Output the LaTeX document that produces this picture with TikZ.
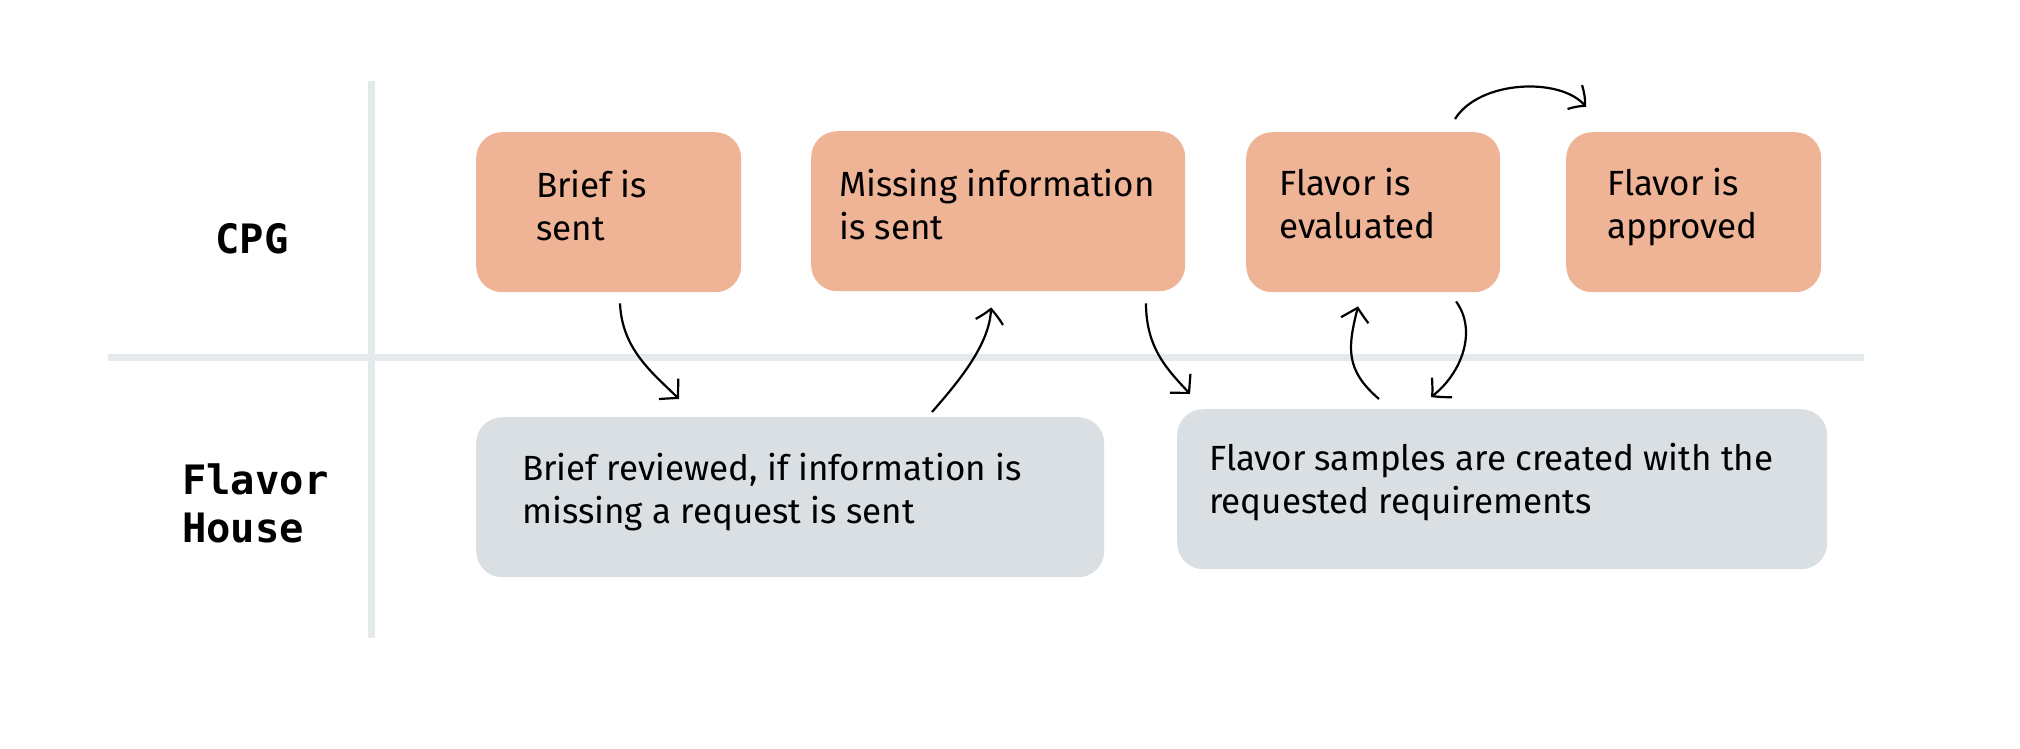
\documentclass[tikz,border=0pt]{standalone}
\usepackage{fontspec}
\setmainfont{Fira Sans}
\newfontfamily\lanemono{DejaVu Sans Mono}
\usetikzlibrary{arrows.meta,calc,bending}
\definecolor{orangebox}{HTML}{EFB395}
\definecolor{graybox}{HTML}{D9DFE2}
\definecolor{laneline}{HTML}{E4E9EB}
\newcommand{\boxtext}[4]{\hspace*{#1pt}\parbox[t][#2pt][t]{#3pt}{\raggedright #4}}
\tikzset{
  stepbase/.style={rounded corners=26pt, inner xsep=0pt, anchor=north west,
    font=\fontsize{35pt}{43pt}\selectfont},
  obox/.style={stepbase, fill=orangebox},
  gbox/.style={stepbase, fill=graybox},
  lanelabel/.style={font=\lanemono\bfseries\fontsize{40.5pt}{48pt}\selectfont, inner sep=0pt},
  lane/.style={draw=laneline, line width=7pt},
  flow/.style={draw=black, line width=2.2pt, -{Straight Barb[length=13pt,width=28pt,line width=2.2pt,bend]}},
}
\begin{document}
\begin{tikzpicture}[x=1pt,y=-1pt]
\useasboundingbox (0,0) rectangle (2020,748);
% lanes
\coordinate (vtop) at (371,81);
\coordinate (vbot) at (371,638);
\coordinate (hleft) at (108,357);
\coordinate (hright) at (1864,357);
\draw[lane] (vtop) -- (vbot);
\draw[lane] (hleft) -- (hright);
% lane labels
\node[lanelabel, anchor=base] (cpg) at (252,253) {CPG};
\node[lanelabel, anchor=west, align=left] (fh) at (182,503) {Flavor\\House};
% boxes
\node[obox, inner ysep=38pt] (brief) at (476,132) {\boxtext{60}{84}{205}{Brief is\\sent}};
\node[obox, inner ysep=38pt] (missing) at (811,131) {\boxtext{28}{84}{346}{Missing information\\is sent}};
\node[obox, inner ysep=36pt] (eval) at (1246,132) {\boxtext{33}{88}{221}{Flavor is\\evaluated}};
\node[obox, inner ysep=36pt] (approved) at (1566,132) {\boxtext{41}{88}{214}{Flavor is\\approved}};
\node[gbox, inner ysep=36pt] (review) at (476,417) {\boxtext{46}{88}{582}{Brief reviewed, if information is\\missing a request is sent}};
\node[gbox, inner ysep=34pt] (samples) at (1177,409) {\boxtext{32}{92}{618}{Flavor samples are created with the\\requested requirements}};
% connectors
\draw[flow] ($(brief.south west)+(144,11)$) .. controls +(2,47) and +(-25,-25) .. ($(review.north west)+(203,-18)$);
\draw[flow] ($(review.north west)+(456,-5)$) .. controls +(28,-32) and +(0,35) .. ($(missing.south west)+(180,16)$);
\draw[flow] ($(missing.south west)+(335,12)$) .. controls +(0,47) and +(-20,-22) .. ($(samples.north west)+(13,-15)$);
\draw[flow] ($(samples.north west)+(202,-10)$) .. controls +(-35,-30) and +(-10,40) .. ($(eval.south west)+(112,14)$);
\draw[flow] ($(eval.south west)+(210,9)$) .. controls +(22,30) and +(30,-22) .. ($(samples.north west)+(254,-12)$);
\draw[flow] ($(eval.north west)+(209,-13)$) .. controls +(25,-40) and +(-22,-30) .. ($(approved.north west)+(20,-25)$);
\end{tikzpicture}
\end{document}
